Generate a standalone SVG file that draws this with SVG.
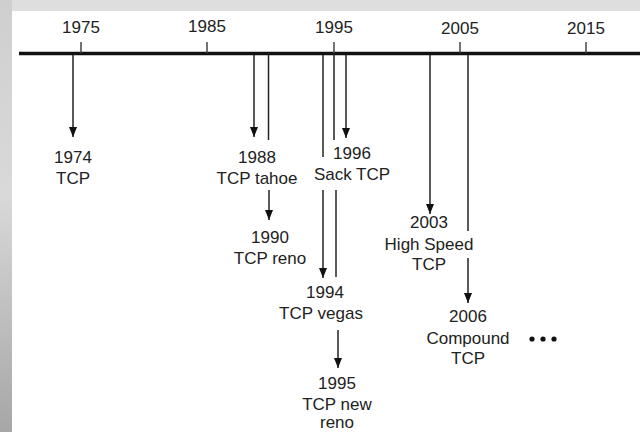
<svg xmlns="http://www.w3.org/2000/svg" width="640" height="432" viewBox="0 0 640 432">
  <defs>
    <linearGradient id="leftband" x1="0" y1="0" x2="0" y2="1">
      <stop offset="0" stop-color="#cfcfcf"/>
      <stop offset="0.45" stop-color="#d9d9d9"/>
      <stop offset="1" stop-color="#a6a6a6"/>
    </linearGradient>
    <marker id="arrow" viewBox="0 0 10 10" refX="10" refY="5" markerWidth="10" markerHeight="10" markerUnits="userSpaceOnUse" orient="auto">
      <path d="M0,1 L10,5 L0,9 z" fill="#111"/>
    </marker>
  </defs>
  <style>
    text { font-family: "Liberation Sans", Arial, sans-serif; font-size: 17px; fill: #222; text-anchor: middle; }
    .tick { stroke: #444; stroke-width: 1.5; }
    .conn { stroke: #222; stroke-width: 1.5; fill: none; }
    .arr { marker-end: url(#arrow); }
  </style>

  <!-- frame -->
  <rect x="0" y="0" width="640" height="432" fill="#dedede"/>
  <rect x="0" y="0" width="12" height="432" fill="url(#leftband)"/>
  <rect x="12" y="11" width="628" height="421" fill="#ffffff"/>

  <!-- axis -->
  <g id="axis">
    <line x1="19" y1="53.5" x2="640" y2="53.5" stroke="#111" stroke-width="3.5"/>
    <line class="tick" x1="81" y1="42" x2="81" y2="53"/>
    <line class="tick" x1="207" y1="42" x2="207" y2="53"/>
    <line class="tick" x1="334" y1="42" x2="334" y2="53"/>
    <line class="tick" x1="460" y1="42" x2="460" y2="53"/>
    <line class="tick" x1="586" y1="42" x2="586" y2="53"/>
    <text x="81" y="33">1975</text>
    <text x="207" y="31.5">1985</text>
    <text x="334" y="33">1995</text>
    <text x="460" y="33.5">2005</text>
    <text x="586" y="33.5">2015</text>
  </g>

  <!-- connectors -->
  <g id="connectors">
    <line class="conn arr" x1="73" y1="55" x2="73" y2="137"/>
    <line class="conn arr" x1="254" y1="55" x2="254" y2="137"/>
    <line class="conn" x1="268.5" y1="55" x2="268.5" y2="140"/>
    <line class="conn arr" x1="269" y1="190" x2="269" y2="220"/>
    <line class="conn" x1="323" y1="55" x2="323" y2="157"/>
    <line class="conn arr" x1="323" y1="190" x2="323" y2="278"/>
    <line class="conn" x1="334" y1="53" x2="334" y2="140"/>
    <line class="conn" x1="336" y1="190" x2="336" y2="277"/>
    <line class="conn arr" x1="338" y1="330" x2="338" y2="368"/>
    <line class="conn arr" x1="346" y1="55" x2="346" y2="138"/>
    <line class="conn arr" x1="430" y1="55" x2="430" y2="214"/>
    <line class="conn" x1="468" y1="55" x2="468" y2="231"/>
    <line class="conn arr" x1="468" y1="258" x2="468" y2="303"/>
  </g>

  <!-- nodes -->
  <g id="tcp1974">
    <text x="73" y="163">1974</text>
    <text x="73" y="184">TCP</text>
  </g>
  <g id="tcp1988">
    <text x="257" y="163">1988</text>
    <text x="257" y="184">TCP tahoe</text>
  </g>
  <g id="tcp1990">
    <text x="270" y="243">1990</text>
    <text x="270" y="264">TCP reno</text>
  </g>
  <g id="tcp1996">
    <text x="352" y="158.5">1996</text>
    <text x="352" y="180">Sack TCP</text>
  </g>
  <g id="tcp1994">
    <text x="325" y="298">1994</text>
    <text x="321" y="318.5">TCP vegas</text>
  </g>
  <g id="tcp1995">
    <text x="337" y="388.5">1995</text>
    <text x="337" y="409.5">TCP new</text>
    <text x="337" y="428">reno</text>
  </g>
  <g id="tcp2003">
    <text x="429" y="228">2003</text>
    <text x="429" y="250">High Speed</text>
    <text x="429" y="270">TCP</text>
  </g>
  <g id="tcp2006">
    <text x="468" y="322">2006</text>
    <text x="468" y="344">Compound</text>
    <text x="468" y="364">TCP</text>
  </g>
  <g id="more">
    <circle cx="532" cy="339" r="2.6" fill="#111"/>
    <circle cx="543" cy="339" r="2.6" fill="#111"/>
    <circle cx="554" cy="339" r="2.6" fill="#111"/>
  </g>
</svg>
